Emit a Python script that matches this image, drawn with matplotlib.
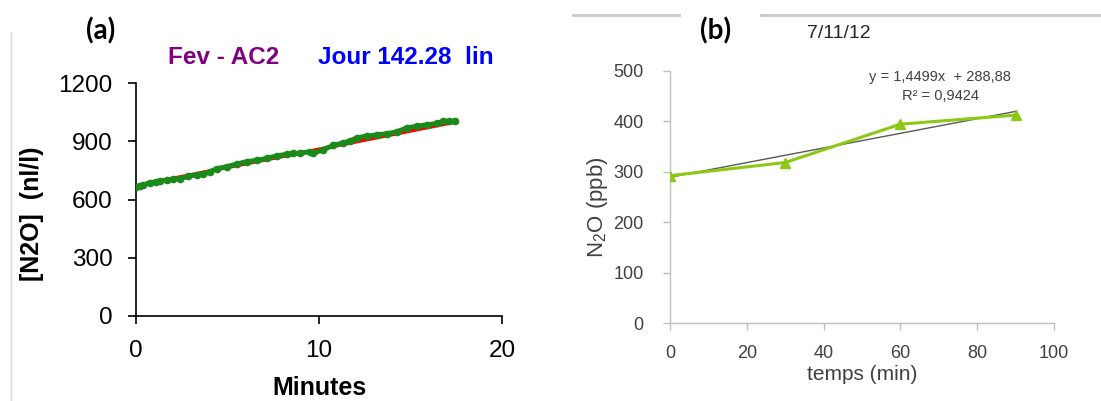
import numpy as np
import matplotlib
matplotlib.use("Agg")
import matplotlib.pyplot as plt
from matplotlib.lines import Line2D

plt.rcParams['font.family'] = ['Liberation Sans', 'DejaVu Sans']
plt.rcParams['mathtext.default'] = 'regular'

# %%
# Panel (a): N2O concentration vs minutes
minutes_a = [0.0, 0.2, 0.4, 0.77, 1.1, 1.31, 1.68, 2.04, 2.40, 2.86, 3.32, 3.68,
             4.04, 4.41, 4.96, 5.50, 6.05, 6.60, 7.14, 7.69, 8.23, 8.60, 8.96,
             9.51, 9.69, 10.24, 10.78, 11.33, 11.70, 12.06, 12.61, 13.15, 13.70,
             14.25, 14.79, 15.34, 15.89, 16.43, 16.79, 17.1, 17.43]
n2o_a = [664, 668, 676, 688, 692, 698, 699, 705, 708, 720, 729, 731,
         744, 760, 770, 784, 796, 803, 813, 826, 834, 838, 840,
         847, 839, 858, 880, 893, 903, 919, 928, 934, 940,
         950, 970, 979, 986, 993, 1005, 1004, 1006]
fit_x_a = [0.0, 17.5]
fit_y_a = [672, 1001]
yticks_a = [0, 300, 600, 900, 1200]
xticks_a = [0, 10, 20]

# Panel (b): N2O (ppb) vs temps (min)
temps_b = [0, 30, 60, 90]
n2o_b = [292, 318, 394, 412]
trend_coef = [1.4499, 288.88]
yticks_b = [0, 100, 200, 300, 400, 500]
xticks_b = [0, 20, 40, 60, 80, 100]

W, H = 1101, 401
fig = plt.figure(figsize=(W / 100, H / 100), dpi=100)

def fx(px):
    return px / W

def fy(py):
    return 1 - py / H

# %%
# Panel (a)
ax = fig.add_axes([fx(136), fy(316), fx(502) - fx(136), fy(83.3) - fy(316)])
ax.plot(fit_x_a, fit_y_a, color='red', lw=2.5, zorder=2)
ax.plot(minutes_a, n2o_a, color='#1a8a1a', lw=3.5, marker='o', ms=4.5,
        mec='#1a8a1a', zorder=3)
ax.set_xlim(0, 20)
ax.set_ylim(0, 1200)
ax.set_xticks(xticks_a)
ax.set_yticks(yticks_a)
for s in ['top', 'right']:
    ax.spines[s].set_visible(False)
for s in ['left', 'bottom']:
    ax.spines[s].set_linewidth(1.2)
ax.tick_params(direction='out', length=6, width=1.2, labelsize=17.5, pad=11)
ax.set_ylabel('[N2O]  (nl/l)', fontsize=18, fontweight='bold')
ax.yaxis.set_label_coords(-0.25, 0.44)
ax.set_xlabel('Minutes', fontsize=18, fontweight='bold')
ax.xaxis.set_label_coords(0.5, -0.258)

fig.text(fx(101), fy(31), '(a)', fontsize=20, fontweight='bold',
         family='Lato', ha='center', va='center')
fig.text(fx(224), fy(58), 'Fev - AC2', fontsize=17.5, fontweight='bold',
         color='#800080', ha='center', va='center')
fig.text(fx(406), fy(58), 'Jour 142.28  lin', fontsize=17.5, fontweight='bold',
         color='#0000ff', ha='center', va='center')

# thin grey border line at far left
fig.add_artist(Line2D([fx(10.5), fx(10.5)], [fy(32), fy(401)],
                      color='#d9d9d9', lw=1))

# %%
# Panel (b)
gray = '#404040'
bx = fig.add_axes([fx(670), fy(323), fx(1054) - fx(670), fy(70.7) - fy(323)])
tx = np.array([temps_b[0], temps_b[-1]])
bx.plot(tx, np.polyval(trend_coef, tx), color='#595959', lw=1, zorder=2)
bx.plot(temps_b, n2o_b, color='#8cc814', lw=2.2, marker='^', ms=7,
        zorder=3)
bx.set_xlim(0, 100)
bx.set_ylim(0, 500)
bx.set_xticks(xticks_b)
bx.set_yticks(yticks_b)
for s in ['top', 'right']:
    bx.spines[s].set_visible(False)
for s in ['left', 'bottom']:
    bx.spines[s].set_color('#bfbfbf')
    bx.spines[s].set_linewidth(1)
bx.tick_params(direction='out', length=5, width=1, color='#bfbfbf',
               labelsize=13, labelcolor=gray)
bx.tick_params(axis='y', pad=14)
bx.tick_params(axis='x', pad=11)
bx.set_ylabel('N$_2$O (ppb)', fontsize=16, color=gray)
bx.yaxis.set_label_coords(-0.156, 0.46)
bx.set_xlabel('temps (min)', fontsize=15, color=gray)
bx.xaxis.set_label_coords(0.5, -0.166)

fig.text(fx(940), fy(77), 'y = 1,4499x  + 288,88', fontsize=10.5,
         color=gray, ha='center', va='center')
fig.text(fx(940), fy(96), 'R² = 0,9424', fontsize=10.5,
         color=gray, ha='center', va='center')
fig.text(fx(716), fy(31), '(b)', fontsize=20, fontweight='bold',
         family='Lato', ha='center', va='center')
fig.text(fx(839), fy(33), '7/11/12', fontsize=14, color='#262626',
         ha='center', va='center')

# grey separator lines at the top of panel (b)
fig.add_artist(Line2D([fx(573), fx(679)], [fy(14.5), fy(14.5)],
                      color='#c8c8c8', lw=2))
fig.add_artist(Line2D([fx(761), fx(1101)], [fy(14.5), fy(14.5)],
                      color='#c8c8c8', lw=2))

fig.savefig('out.png', dpi=100)
